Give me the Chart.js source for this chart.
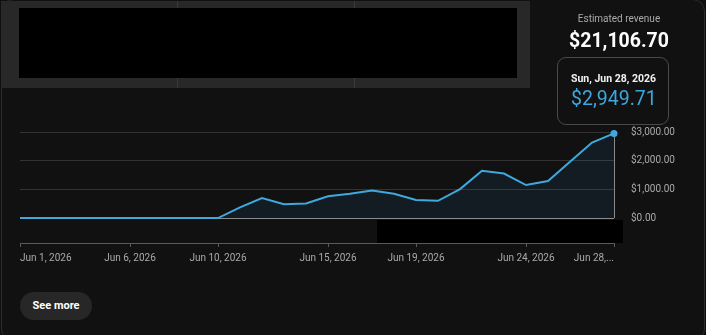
<!DOCTYPE html>
<html>
<head>
<meta charset="utf-8">
<script src="https://cdn.jsdelivr.net/npm/chart.js@4"></script>
<style>
    html, body { margin: 0; padding: 0; background: #0f0f0f; }
    body { width: 706px; height: 335px; position: relative; overflow: hidden; font-family: Roboto, "Noto Sans", sans-serif; }
    .card { position: absolute; left: 1px; top: -1px; width: 702px; height: 340px; border: 1px solid #2c2c2c; border-radius: 12px; background: #111111; overflow: hidden; }
    .tabs { position: absolute; left: 1px; top: 1px; width: 529px; height: 87px; background: #282828; }
    .sep { position: absolute; top: 0; width: 1px; height: 87px; background: #3a3a3a; }
    .redact { position: absolute; background: #000; }
    .summary { position: absolute; left: 540px; top: 0; width: 158px; text-align: center; }
    .summary .label { position: absolute; left: 0; width: 158px; top: 13px; font-size: 10px; color: #aaaaaa; }
    .summary .total { position: absolute; left: 0; width: 158px; top: 29px; font-size: 19.5px; font-weight: bold; color: #ffffff; }
    .tip { position: absolute; left: 557px; top: 57px; width: 110px; height: 66px; border: 1px solid #4a4a4a; border-radius: 9px; background: #111111; }
    .tip .date { position: absolute; left: 13px; top: 14px; font-size: 10.5px; font-weight: bold; color: #f1f1f1; }
    .tip .val { position: absolute; left: 13px; top: 29px; font-size: 19.5px; color: #3ea6de; }
    .more { position: absolute; left: 20px; top: 292px; width: 72px; height: 28px; border-radius: 14px; background: #272727; color: #fff; font-size: 11px; font-weight: bold; text-align: center; line-height: 28px; }
    canvas { position: absolute; left: 0; top: 0; }
</style>
</head>
<body>
<div class="card"></div>
<div class="tabs">
    <div class="sep" style="left:176px"></div>
    <div class="sep" style="left:353px"></div>
</div>
<div class="redact" style="left:19px; top:8px; width:498px; height:70px"></div>
<canvas id="revenueChart" width="706" height="335"></canvas>
<div class="redact" style="left:377px; top:220px; width:246px; height:23px"></div>
<div class="summary">
    <div class="label">Estimated revenue</div>
    <div class="total">$21,106.70</div>
</div>
<div class="tip">
    <div class="date">Sun, Jun 28, 2026</div>
    <div class="val">$2,949.71</div>
</div>
<div class="more">See more</div>

<script>
// Daily estimated revenue, June 2026
const days = [
    'Jun 1, 2026', 'Jun 2, 2026', 'Jun 3, 2026', 'Jun 4, 2026', 'Jun 5, 2026', 'Jun 6, 2026', 'Jun 7, 2026',
    'Jun 8, 2026', 'Jun 9, 2026', 'Jun 10, 2026', 'Jun 11, 2026', 'Jun 12, 2026', 'Jun 13, 2026', 'Jun 14, 2026',
    'Jun 15, 2026', 'Jun 16, 2026', 'Jun 17, 2026', 'Jun 18, 2026', 'Jun 19, 2026', 'Jun 20, 2026', 'Jun 21, 2026',
    'Jun 22, 2026', 'Jun 23, 2026', 'Jun 24, 2026', 'Jun 25, 2026', 'Jun 26, 2026', 'Jun 27, 2026', 'Jun 28, 2026'
];
const revenue = [
    0, 0, 0, 0, 0, 0, 0,
    0, 0, 0, 370, 700, 480, 510,
    760, 850, 960, 850, 630, 600, 1010,
    1650, 1550, 1150, 1290, 1960, 2630, 2949.71
];
// x labels that are shown (others hidden)
const xTickLabels = {
    'Jun 1, 2026': 'Jun 1, 2026',
    'Jun 6, 2026': 'Jun 6, 2026',
    'Jun 10, 2026': 'Jun 10, 2026',
    'Jun 15, 2026': 'Jun 15, 2026',
    'Jun 19, 2026': 'Jun 19, 2026',
    'Jun 24, 2026': 'Jun 24, 2026',
    'Jun 28, 2026': 'Jun 28,...'
};
const yTicks = [0, 1000, 2000, 3000];

const lineBlue = '#3fa9de';
const lastIndex = days.length - 1;

// hover guide under the selected day
const hoverLine = {
    id: 'hoverLine',
    beforeDatasetsDraw(chart) {
        const { ctx, chartArea, scales } = chart;
        const x = scales.x.getPixelForValue(lastIndex);
        ctx.save();
        ctx.strokeStyle = '#8a8a8a';
        ctx.lineWidth = 1;
        ctx.beginPath();
        ctx.moveTo(Math.round(x) + 0.5, chartArea.top);
        ctx.lineTo(Math.round(x) + 0.5, scales.y.getPixelForValue(0));
        ctx.stroke();
        ctx.restore();
    }
};

window.onload = function() {
    const ctx = document.getElementById('revenueChart').getContext('2d');
    new Chart(ctx, {
        type: 'line',
        data: {
            labels: days,
            datasets: [{
                data: revenue,
                borderColor: lineBlue,
                borderWidth: 2,
                backgroundColor: 'rgba(62, 166, 255, 0.08)',
                fill: 'origin',
                tension: 0,
                clip: false,
                pointRadius: c => c.dataIndex === lastIndex ? 3.5 : 0,
                pointBackgroundColor: lineBlue,
                pointBorderWidth: 0
            }]
        },
        options: {
            responsive: false,
            animation: false,
            layout: { padding: { left: 20, top: 132, right: 0, bottom: 0 } },
            plugins: { legend: { display: false }, tooltip: { enabled: false } },
            scales: {
                x: {
                    afterFit: s => { s.height = 92; },
                    border: { display: true, color: '#5a5a5a', width: 1 },
                    grid: {
                        drawOnChartArea: false,
                        drawTicks: true,
                        tickLength: 4,
                        color: c => (c.tick && xTickLabels[days[c.index]]) ? '#5a5a5a' : 'rgba(0,0,0,0)'
                    },
                    ticks: {
                        autoSkip: false,
                        maxRotation: 0,
                        align: 'inner',
                        padding: 5,
                        color: '#aaaaaa',
                        font: { family: 'Roboto', size: 10 },
                        callback: (v, i) => xTickLabels[days[i]] || ''
                    }
                },
                y: {
                    position: 'right',
                    min: -870,
                    max: 3000,
                    afterFit: s => { s.width = 92; },
                    afterBuildTicks: s => { s.ticks = yTicks.map(v => ({ value: v })); },
                    border: { display: false },
                    grid: {
                        drawTicks: false,
                        color: c => c.tick && c.tick.value === 0 ? '#8c8c8c' : '#333333',
                        lineWidth: 1
                    },
                    ticks: {
                        padding: 17,
                        crossAlign: 'near',
                        color: '#aaaaaa',
                        font: { family: 'Roboto', size: 10 },
                        callback: v => '$' + v.toLocaleString('en-US', { minimumFractionDigits: 2, maximumFractionDigits: 2 })
                    }
                }
            }
        },
        plugins: [hoverLine]
    });
};
</script>
</body>
</html>
